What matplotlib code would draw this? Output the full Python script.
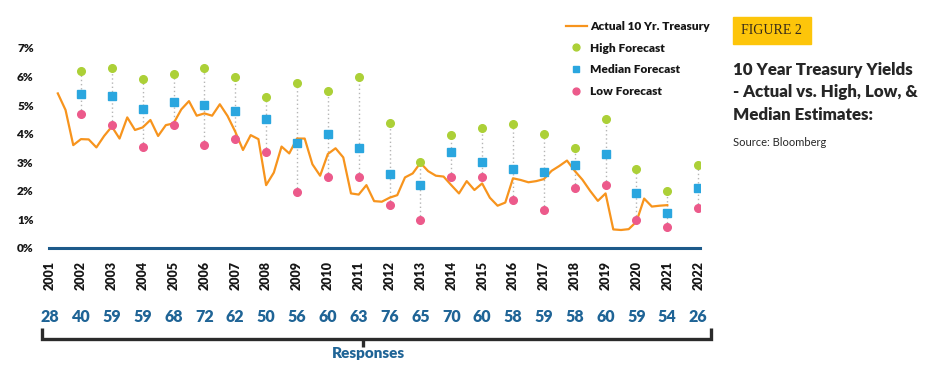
import matplotlib
matplotlib.use("Agg")
import matplotlib.pyplot as plt
import matplotlib.transforms as mtransforms
from matplotlib.lines import Line2D
from matplotlib.patches import Rectangle
import numpy as np

plt.rcParams['font.family'] = ['Lato', 'DejaVu Sans']

# quarterly actual 10 yr treasury yield, 2001 Q2 .. 2021 Q1
actual_yield = [5.41, 4.83, 3.60, 3.81, 3.80, 3.52, 3.92, 4.25, 3.83, 4.57,
                4.13, 4.22, 4.48, 3.92, 4.30, 4.36, 4.85, 5.14, 4.63, 4.71,
                4.63, 5.03, 4.62, 4.07, 3.43, 3.95, 3.81, 2.20, 2.64, 3.55,
                3.31, 3.83, 3.83, 2.93, 2.53, 3.29, 3.49, 3.17, 1.91, 1.87,
                2.20, 1.64, 1.62, 1.76, 1.85, 2.47, 2.61, 2.98, 2.69, 2.53,
                2.50, 2.20, 1.91, 2.34, 2.03, 2.26, 1.76, 1.48, 1.59, 2.44,
                2.38, 2.30, 2.34, 2.41, 2.70, 2.87, 3.06, 2.70, 2.39, 2.00,
                1.65, 1.91, 0.65, 0.63, 0.66, 0.92, 1.73, 1.45, 1.48, 1.50]
quarters = 2001.25 + 0.25 * np.arange(len(actual_yield))

forecast_years = list(range(2002, 2023))
high_fc = [6.20, 6.31, 5.90, 6.10, 6.31, 6.00, 5.30, 5.76, 5.50, 6.00, 4.37,
           3.00, 3.94, 4.20, 4.35, 3.99, 3.50, 4.53, 2.75, 1.99, 2.90]
median_fc = [5.40, 5.33, 4.86, 5.10, 5.00, 4.79, 4.50, 3.66, 4.00, 3.49, 2.60,
             2.19, 3.37, 3.00, 2.78, 2.66, 2.92, 3.30, 1.94, 1.24, 2.11]
low_fc = [4.70, 4.30, 3.54, 4.30, 3.60, 3.80, 3.35, 1.95, 2.50, 2.50, 1.49,
          0.98, 2.50, 2.47, 1.69, 1.34, 2.10, 2.19, 0.99, 0.75, 1.39]

all_years = list(range(2001, 2023))
responses = [28, 40, 59, 59, 68, 72, 62, 50, 56, 60, 63, 76, 65, 70, 60, 58,
             59, 58, 60, 59, 54, 26]
y_ticks = [0, 1, 2, 3, 4, 5, 6, 7]

W, H = 929, 375
fig = plt.figure(figsize=(W / 100, H / 100), dpi=100)
ax = fig.add_axes([49 / W, (H - 248) / H, 651 / W, 208.6 / H])
ax.set_xlim(2000.964, 2022.06)
ax.set_ylim(0, 7.3)

ORANGE = "#f7941d"
GREEN = "#acd037"
BLUE = "#2aa6df"
PINK = "#ec5a8b"
NAVY = "#1f6496"
INK = "#161616"

ax.vlines(forecast_years, low_fc, high_fc, colors="#b5b5b5",
          linestyles=(0, (1, 2)), linewidth=1, zorder=1)
line, = ax.plot(quarters, actual_yield, color=ORANGE, lw=1.6, zorder=2,
                label="Actual 10 Yr. Treasury")
hi, = ax.plot(forecast_years, high_fc, "o", color=GREEN, ms=5.5, zorder=3,
              label="High Forecast")
med, = ax.plot(forecast_years, median_fc, "s", color=BLUE, ms=5.5, zorder=3,
               label="Median Forecast")
lo, = ax.plot(forecast_years, low_fc, "o", color=PINK, ms=5.5, zorder=3,
              label="Low Forecast")

ax.axhline(0, color="#1d5a8a", lw=2.2, clip_on=False, zorder=4)

for s in ax.spines.values():
    s.set_visible(False)
ax.set_yticks(y_ticks)
ax.set_yticklabels([f"{v}%" for v in y_ticks], fontsize=8.5, fontweight="heavy",
                   color=INK)
ax.set_xticks(all_years)
ax.set_xticklabels([str(y) for y in all_years], rotation=90, fontsize=9,
                   fontweight="heavy", color=INK, va="top")
ax.tick_params(axis="y", length=0, pad=11)
ax.tick_params(axis="x", length=0, pad=9.5)

# responses row and bracket
bt = mtransforms.blended_transform_factory(ax.transData, fig.transFigure)
for yr, n in zip(all_years, responses):
    ax.text(yr, (H - 317) / H, str(n), transform=bt, ha="center", va="center",
            fontsize=11.5, fontweight="heavy", color=NAVY, clip_on=False)

bx0, bx1, bmid = 2000.74, 2022.41, 2011.14
ytop, ybot, ytick = (H - 328) / H, (H - 338.5) / H, (H - 347) / H
kw = dict(transform=bt, color="#2b2b2b", lw=2.4, clip_on=False,
          solid_capstyle="butt")
ax.add_line(Line2D([bx0, bx0, bx1, bx1], [ytop, ybot, ybot, ytop],
                   solid_joinstyle="miter", **kw))
ax.add_line(Line2D([bmid, bmid], [ybot, ytick], **kw))
ax.text(2011.3, (H - 353) / H, "Responses", transform=bt, ha="center",
        va="center", fontsize=11, fontweight="heavy", color=NAVY)

# legend
fig.legend(handles=[line, hi, med, lo], loc="upper left",
           bbox_to_anchor=(561 / W, (H - 16) / H), frameon=False,
           prop={"size": 8.6, "weight": "heavy"}, handlelength=1.75,
           handletextpad=0.3, labelspacing=0.9, borderaxespad=0,
           labelcolor=INK, markerscale=0.9)

# side panel
fig.patches.append(Rectangle((732.7 / W, (H - 43.7) / H), 78 / W, 26.4 / H,
                             transform=fig.transFigure, color="#fdc50a",
                             zorder=0))
fig.text(771.7 / W, (H - 30.5) / H, "FIGURE 2", ha="center", va="center",
         fontsize=10, color="#35291a",
         family=["Liberation Serif", "DejaVu Serif"])
title_lines = ["10 Year Treasury Yields", "- Actual vs. High, Low, &",
               "Median Estimates:"]
for i, t in enumerate(title_lines):
    fig.text(733 / W, (H - 70 - 22.5 * i) / H, t, ha="left", va="center",
             fontsize=12.2, fontweight="heavy", color="#262626")
fig.text(733 / W, (H - 142) / H, "Source: Bloomberg", ha="left", va="center",
         fontsize=8, color="#262626")

fig.savefig("out.png", dpi=100)
